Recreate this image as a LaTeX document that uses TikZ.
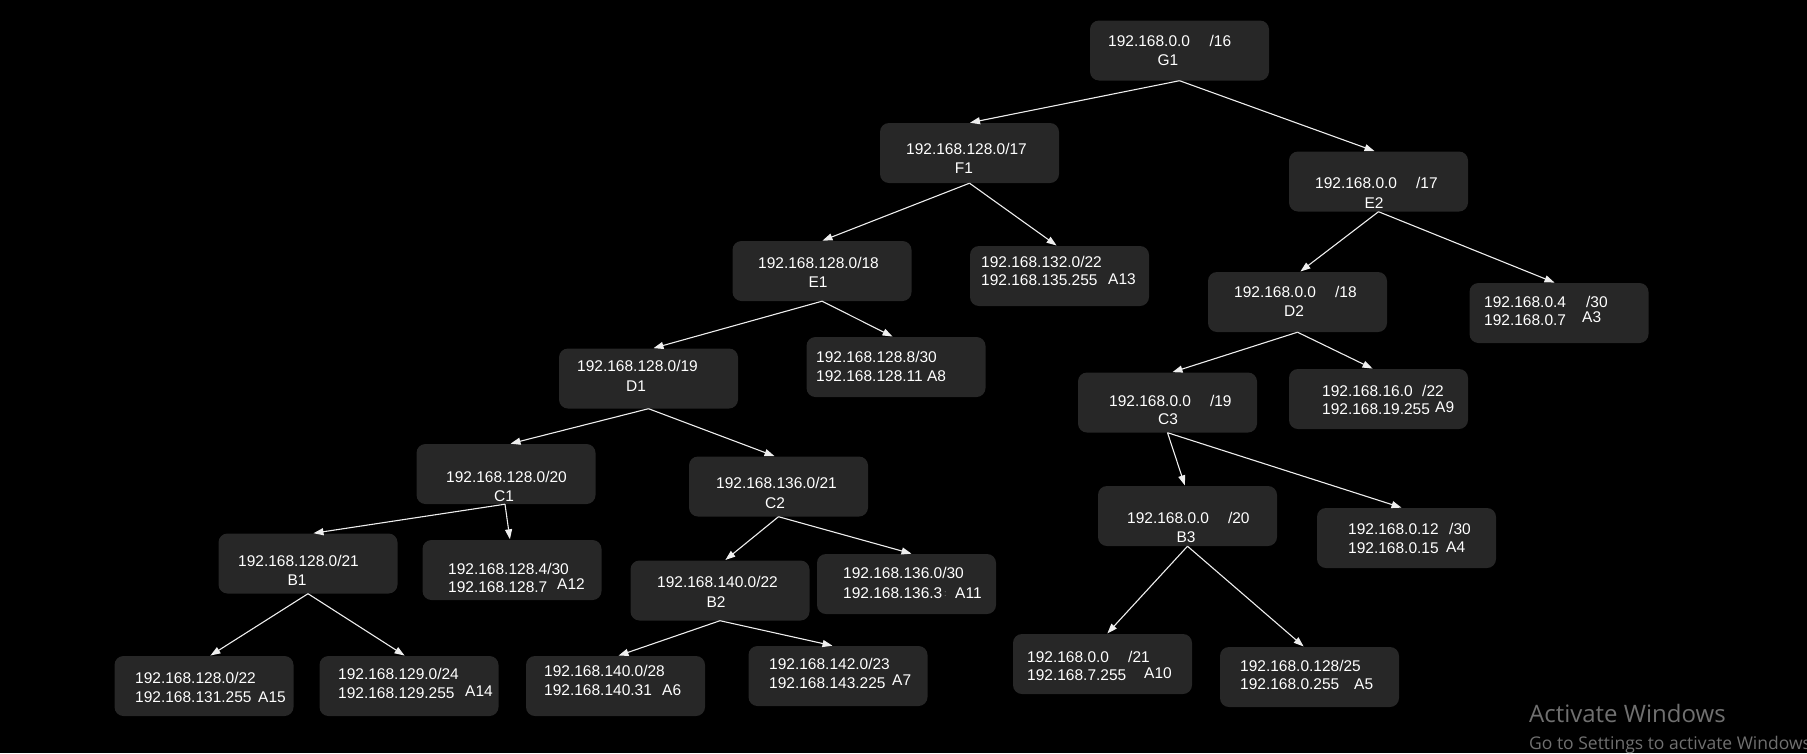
\documentclass[tikz,border=0pt]{standalone}
\usepackage{fontspec}
\setmainfont{Liberation Sans}
\newfontfamily\wmfont{Open Sans}
\usetikzlibrary{arrows.meta}
\definecolor{boxfill}{HTML}{272727}
\definecolor{edgecol}{HTML}{EEEEEE}
\definecolor{wmgray}{HTML}{707070}

\begin{document}
\begin{tikzpicture}[x=1pt,y=-1pt,
  netbox/.style={fill=boxfill, rounded corners=9pt, minimum width=179pt,
    minimum height=60pt, inner sep=0pt},
  lbl/.style={text=white, font=\fontsize{15.5pt}{19pt}\selectfont,
    inner sep=0pt, anchor=base west},
  clbl/.style={lbl, anchor=base},
  edge/.style={draw=edgecol, line width=1.1pt,
    -{Triangle[length=10pt,width=7pt]}, shorten >=0.5pt},
  wm/.style={text=wmgray, inner sep=0pt, anchor=base west}
]
\fill[black] (0,0) rectangle (1807,753);
\useasboundingbox (0,0) rectangle (1807,753);

% ---------- subnet boxes ----------
\node[netbox] (G1)  at (1179.5,50.5) {};
\node[netbox] (F1)  at (969.5,153)   {};
\node[netbox] (E2)  at (1378.5,181.5){};
\node[netbox] (E1)  at (822,271)     {};
\node[netbox] (A13) at (1059.5,276)  {};
\node[netbox] (D2)  at (1297.5,302)  {};
\node[netbox] (A3)  at (1559,313)    {};
\node[netbox] (D1)  at (648.5,378.5) {};
\node[netbox] (A8)  at (896,367)     {};
\node[netbox] (C3)  at (1167.5,402.5){};
\node[netbox] (A9)  at (1378.5,399)  {};
\node[netbox] (C1)  at (506,474)     {};
\node[netbox] (C2)  at (778.5,486.5) {};
\node[netbox] (B3)  at (1187.5,516)  {};
\node[netbox] (A4)  at (1406.5,538)  {};
\node[netbox] (B1)  at (308,563.5)   {};
\node[netbox] (A12) at (512,570)     {};
\node[netbox] (B2)  at (720,590.5)   {};
\node[netbox] (A11) at (906.5,584)   {};
\node[netbox] (A10) at (1102.5,664)  {};
\node[netbox] (A5)  at (1309.5,677)  {};
\node[netbox] (A15) at (204,686)     {};
\node[netbox] (A14) at (409,686)     {};
\node[netbox] (A6)  at (615.5,686)   {};
\node[netbox] (A7)  at (838,676)     {};

% ---------- labels of the split nodes ----------
\node[lbl]  (G1a) at (1108,46.5)  {192.168.0.0\hspace{19.5pt}/16};
\node[clbl] (G1b) at (1168,65.5)  {G1};
\node[lbl]  (F1a) at (906,154.5)  {192.168.128.0/17};
\node[clbl] (F1b) at (964,173.5)  {F1};
\node[lbl]  (E2a) at (1315,188.5) {192.168.0.0\hspace{19pt}/17};
\node[clbl] (E2b) at (1374,208.5) {E2};
\node[lbl]  (E1a) at (758,268.5)  {192.168.128.0/18};
\node[clbl] (E1b) at (818,287.5)  {E1};
\node[lbl]  (D2a) at (1234,297.5) {192.168.0.0\hspace{19pt}/18};
\node[clbl] (D2b) at (1294,316.5) {D2};
\node[lbl]  (D1a) at (577,371.5)  {192.168.128.0/19};
\node[clbl] (D1b) at (636,391.5)  {D1};
\node[lbl]  (C3a) at (1109,406.5) {192.168.0.0\hspace{19pt}/19};
\node[clbl] (C3b) at (1168,424.5) {C3};
\node[lbl]  (C1a) at (446,482.5)  {192.168.128.0/20};
\node[clbl] (C1b) at (504,501.5)  {C1};
\node[lbl]  (C2a) at (716,488.5)  {192.168.136.0/21};
\node[clbl] (C2b) at (775,508.5)  {C2};
\node[lbl]  (B3a) at (1127,523.5) {192.168.0.0\hspace{19pt}/20};
\node[clbl] (B3b) at (1186,542.5) {B3};
\node[lbl]  (B1a) at (238,566.5)  {192.168.128.0/21};
\node[clbl] (B1b) at (297,585.5)  {B1};
\node[lbl]  (B2a) at (657,587.5)  {192.168.140.0/22};
\node[clbl] (B2b) at (716,607.5)  {B2};

% ---------- labels of the leaf blocks ----------
\node[lbl] (A13a) at (981,267.5)  {192.168.132.0/22};
\node[lbl] (A13b) at (981,285.5)  {192.168.135.255};
\node[lbl] (A13c) at (1108,284.5) {A13};
\node[lbl] (A3a)  at (1484,307.5) {192.168.0.4\hspace{20pt}/30};
\node[lbl] (A3b)  at (1484,325.5) {192.168.0.7};
\node[lbl] (A3c)  at (1582,322.5) {A3};
\node[lbl] (A8a)  at (816,362.5)  {192.168.128.8/30};
\node[lbl] (A8b)  at (816,381.5)  {192.168.128.11 A8};
\node[lbl] (A9a)  at (1322,396.5) {192.168.16.0};
\node[lbl] (A9s)  at (1422,396.5) {/22};
\node[lbl] (A9b)  at (1322,414.5) {192.168.19.255};
\node[lbl] (A9c)  at (1435,412.5) {A9};
\node[lbl] (A4a)  at (1348,534.5) {192.168.0.12};
\node[lbl] (A4s)  at (1449,534.5) {/30};
\node[lbl] (A4b)  at (1348,553.5) {192.168.0.15};
\node[lbl] (A4c)  at (1446,552.5) {A4};
\node[lbl] (A12a) at (448,574.5)  {192.168.128.4/30};
\node[lbl] (A12b) at (448,592.5)  {192.168.128.7};
\node[lbl] (A12c) at (557,589.5)  {A12};
\node[lbl] (A11a) at (843,578.5)  {192.168.136.0/30};
\node[lbl] (A11b) at (843,598.5)  {192.168.136.3};
\node[lbl, text=gray, font=\fontsize{9pt}{10pt}\selectfont] (A11s) at (944,596) {:};
\node[lbl] (A11c) at (955,598.5)  {A11};
\node[lbl] (A10a) at (1027,662.5) {192.168.0.0};
\node[lbl] (A10s) at (1128,662.5) {/21};
\node[lbl] (A10b) at (1027,680.5) {192.168.7.255};
\node[lbl] (A10c) at (1144,678.5) {A10};
\node[lbl] (A5a)  at (1240,671.5) {192.168.0.128/25};
\node[lbl] (A5b)  at (1240,689.5) {192.168.0.255};
\node[lbl] (A5c)  at (1354,689.5) {A5};
\node[lbl] (A15a) at (135,683.5)  {192.168.128.0/22};
\node[lbl] (A15b) at (135,702.5)  {192.168.131.255};
\node[lbl] (A15c) at (258,702.5)  {A15};
\node[lbl] (A14a) at (338,679.5)  {192.168.129.0/24};
\node[lbl] (A14b) at (338,698.5)  {192.168.129.255};
\node[lbl] (A14c) at (465,696.5)  {A14};
\node[lbl] (A6a)  at (544,676.5)  {192.168.140.0/28};
\node[lbl] (A6b)  at (544,695.5)  {192.168.140.31};
\node[lbl] (A6c)  at (662,695.5)  {A6};
\node[lbl] (A7a)  at (769,669.5)  {192.168.142.0/23};
\node[lbl] (A7b)  at (769,688.5)  {192.168.143.225};
\node[lbl] (A7c)  at (892,685.5)  {A7};

% ---------- tree connectors ----------
\draw[edge] (G1.south) -- (F1.north);
\draw[edge] (G1.south) -- ([xshift=-3.5pt]E2.north);
\draw[edge] (F1.south) -- (E1.north);
\draw[edge] (F1.south) -- ([xshift=-2.5pt]A13.north);
\draw[edge] (E2.south) -- ([xshift=2.5pt]D2.north);
\draw[edge] (E2.south) -- ([xshift=-4pt]A3.north);
\draw[edge] (E1.south) -- ([xshift=4.5pt]D1.north);
\draw[edge] (E1.south) -- ([xshift=-3pt]A8.north);
\draw[edge] (D1.south) -- ([xshift=4pt]C1.north);
\draw[edge] (D1.south) -- ([xshift=-3.5pt]C2.north);
\draw[edge] ([xshift=-1pt]C1.south) -- ([xshift=5pt]B1.north);
\draw[edge] ([xshift=-1pt]C1.south) -- ([xshift=-2pt]A12.north);
\draw[edge] (C2.south) -- ([xshift=5pt]B2.north);
\draw[edge] (C2.south) -- ([xshift=5.5pt]A11.north);
\draw[edge] (B1.south) -- ([xshift=6pt]A15.north);
\draw[edge] (B1.south) -- ([xshift=-4pt]A14.north);
\draw[edge] (B2.south) -- ([xshift=2.5pt]A6.north);
\draw[edge] (B2.south) -- ([xshift=-5pt]A7.north);
\draw[edge] (D2.south) -- ([xshift=4.5pt]C3.north);
\draw[edge] (D2.south) -- ([xshift=-5.5pt]A9.north);
\draw[edge] (C3.south) -- ([xshift=-2.5pt]B3.north);
\draw[edge] (C3.south) -- ([xshift=-4.5pt]A4.north);
\draw[edge] (B3.south) -- ([xshift=4.5pt]A10.north);
\draw[edge] (B3.south) -- ([xshift=-5.5pt]A5.north);

% ---------- system notice ----------
\node[wm, font=\wmfont\fontsize{24pt}{28pt}\selectfont] (wm1) at (1529,722) {Activate Windows};
\node[wm, font=\wmfont\fontsize{17.5pt}{20pt}\selectfont] (wm2) at (1529,749) {Go to Settings to activate Windows};
\end{tikzpicture}
\end{document}
